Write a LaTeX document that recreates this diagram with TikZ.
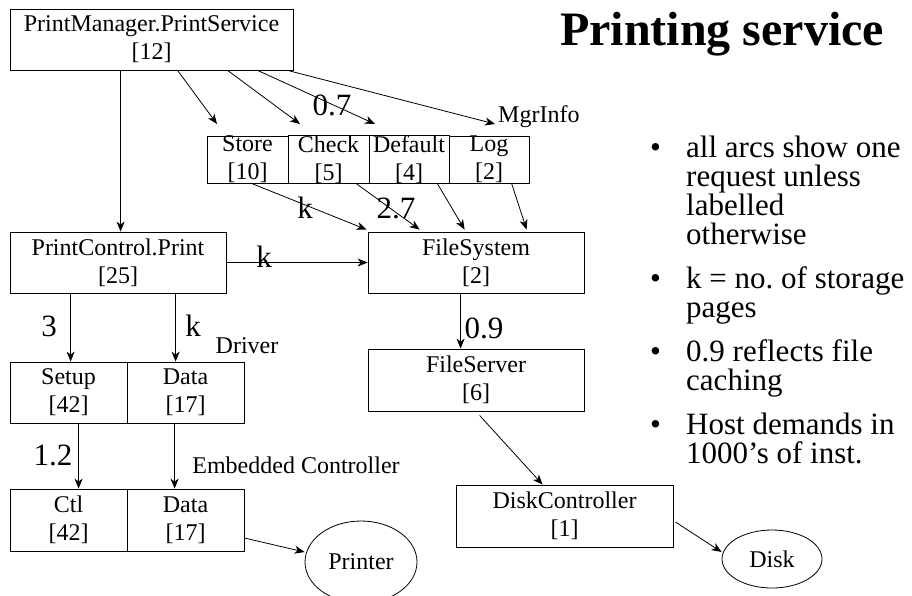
\documentclass[tikz,border=0pt]{standalone}
\usepackage{fontspec}
\setmainfont{Liberation Serif}
\usetikzlibrary{arrows.meta,shapes.geometric,calc}
\frenchspacing
\begin{document}
\begin{tikzpicture}[x=1pt,y=-1pt,
  box/.style={draw, line width=0.8pt, inner sep=0pt, align=center, font=\fontsize{24}{28}\selectfont},
  oval/.style={draw, ellipse, line width=0.8pt, inner sep=0pt, font=\fontsize{24}{28}\selectfont},
  lbl/.style={inner sep=0pt, anchor=base, font=\fontsize{31}{31}\selectfont},
  note/.style={inner sep=0pt, anchor=base, font=\fontsize{24}{28}\selectfont},
  bul/.style={inner sep=0pt, anchor=base west, font=\fontsize{31}{29}\selectfont},
  arr/.style={-{Stealth[length=10pt,width=8pt,inset=3pt]}, line width=0.8pt}]
\useasboundingbox (0,0) rectangle (912,595);

% boxes
\node[box, minimum width=283, minimum height=61] (pms) at (151.5,39.5) {PrintManager.PrintService\\{[12]}};
\node[box, minimum width=81, minimum height=45] (store) at (247.5,159.5) {Store\\{[10]}};
\node[box, minimum width=81, minimum height=45] (check) at (328.5,159.5) {Check\\{[5]}};
\node[box, minimum width=80, minimum height=45] (default) at (409,159.5) {Default\\{[4]}};
\node[box, minimum width=80, minimum height=45] (log) at (489,159.5) {Log\\{[2]}};
\node[box, minimum width=216, minimum height=61] (pcp) at (118,262.5) {PrintControl.Print\\{[25]}};
\node[box, minimum width=216, minimum height=61] (fs) at (476,262.5) {FileSystem\\{[2]}};
\node[box, minimum width=216, minimum height=62] (fserv) at (476,380) {FileServer\\{[6]}};
\node[box, minimum width=217, minimum height=62] (dc) at (564.5,516) {DiskController\\{[1]}};
\node[box, minimum width=117, minimum height=61] (setup) at (68.5,392.5) {Setup\\{[42]}};
\node[box, minimum width=117, minimum height=61] (data1) at (185.5,392.5) {Data\\{[17]}};
\node[box, minimum width=117, minimum height=62] (ctl) at (68.5,520) {Ctl\\{[42]}};
\node[box, minimum width=117, minimum height=62] (data2) at (185.5,520) {Data\\{[17]}};
\node[oval, minimum width=112, minimum height=82] (printer) at (361,562) {Printer};
\node[oval, minimum width=100, minimum height=58] (disk) at (772,559) {Disk};

% arrow end points
\coordinate (tStore) at (217,124);
\coordinate (tCheck) at (300,124);
\coordinate (tDefault) at (375,124);
\coordinate (tLog) at (495,124);

\draw[arr] ($(pms.south west)+(111,0)$) -- (pcp.north -| {$(pms.south west)+(111,0)$});
\draw[arr] ($(pms.south west)+(168,0)$) -- (tStore);
\draw[arr] ($(pms.south west)+(218,0)$) -- (tCheck);
\draw[arr] ($(pms.south west)+(248,0)$) -- (tDefault);
\draw[arr] ($(pms.south west)+(278,0)$) -- (tLog);

\draw[arr] ($(store.south west)+(45,0)$) -- ($(fs.north west)+(-1,-2)$);
\draw[arr] ($(check.south west)+(69,0)$) -- ($(fs.north west)+(52,-2)$);
\draw[arr] ($(default.south west)+(69,0)$) -- ($(fs.north west)+(97,-2)$);
\draw[arr] ($(log.south west)+(63,0)$) -- ($(fs.north west)+(159,-2)$);

\draw[arr] (pcp.east) -- (fs.west);
\draw[arr] ($(pcp.south west)+(61,0)$) -- ($(setup.north west)+(61,0)$);
\draw[arr] ($(pcp.south west)+(166,0)$) -- ($(data1.north west)+(49,0)$);
\draw[arr] ($(setup.south west)+(69,0)$) -- ($(ctl.north west)+(69,0)$);
\draw[arr] ($(data1.south west)+(48,0)$) -- ($(data2.north west)+(48,0)$);
\draw[arr] ($(data2.east)+(0,18)$) -- (printer.west |- 0,552);
\draw[arr] ($(fs.south west)+(93,0)$) -- ($(fserv.north west)+(93,0)$);
\draw[arr] ($(fserv.south west)+(112,4)$) -- ($(dc.north west)+(87,0)$);
\draw[arr] ($(dc.east)+(2,6)$) -- ($(disk.west)+(0,-7)$);

% labels
\node[lbl] (l07) at (332,115) {0.7};
\node[lbl] (lk1) at (305,218) {k};
\node[lbl] (l27) at (396,218) {2.7};
\node[lbl] (lk2) at (264,267) {k};
\node[lbl] (l3) at (49,336) {3};
\node[lbl] (lk3) at (193,336) {k};
\node[lbl] (l12) at (53,465) {1.2};
\node[lbl] (l09) at (484,338) {0.9};
\node[note, anchor=base west] (mgr) at (498,122) {MgrInfo};
\node[note] (drv) at (247,353) {Driver};
\node[note] (emb) at (296,473) {Embedded Controller};

% title
\node[inner sep=0pt, anchor=base west, font=\bfseries\fontsize{48}{48}\selectfont] (title) at (560,45) {Printing service};

% bullets
\node[bul] (d1) at (650,157) {•};
\node[bul] (b1a) at (686,157) {all arcs show one};
\node[bul] (b1b) at (686,186) {request unless};
\node[bul] (b1c) at (686,215) {labelled};
\node[bul] (b1d) at (686,244) {otherwise};
\node[bul] (d2) at (650,288) {•};
\node[bul] (b2a) at (686,288) {k = no. of storage};
\node[bul] (b2b) at (686,317) {pages};
\node[bul] (d3) at (650,361) {•};
\node[bul] (b3a) at (686,361) {0.9 reflects file};
\node[bul] (b3b) at (686,390) {caching};
\node[bul] (d4) at (650,434) {•};
\node[bul] (b4a) at (686,434) {Host demands in};
\node[bul] (b4b) at (686,463) {1000’s of inst.};
\end{tikzpicture}
\end{document}
